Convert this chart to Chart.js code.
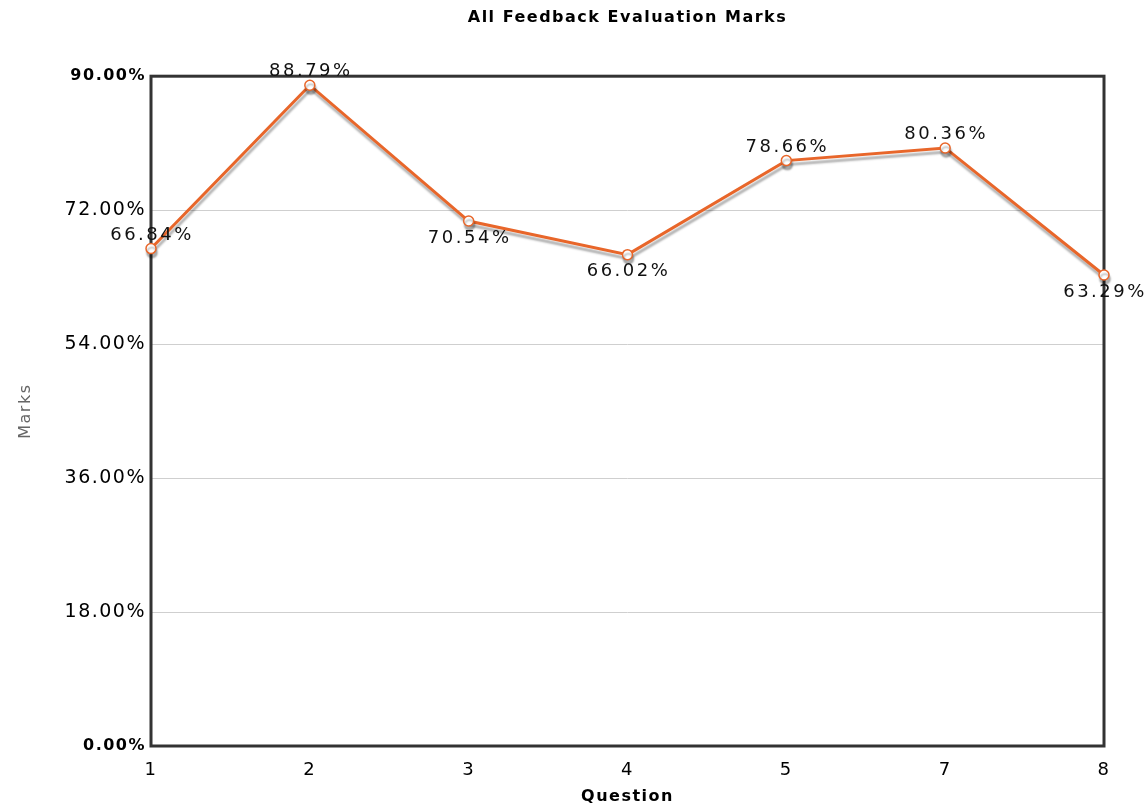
<!DOCTYPE html>
<html>
<head>
<meta charset="utf-8">
<script src="https://cdn.jsdelivr.net/npm/chart.js@4.4.1/dist/chart.umd.min.js"></script>
<style>
  html, body { margin: 0; padding: 0; background: #fff; }
  #wrap { width: 1148px; height: 808px; }
</style>
</head>
<body>
<div id="wrap"><canvas id="marksChart" width="1148" height="808"></canvas></div>
<script>
// questions and marks
const questions = ["1", "2", "3", "4", "5", "7", "8"];
const marks = [66.84, 88.79, 70.54, 66.02, 78.66, 80.36, 63.29];
// where each label sits: above or below its point
const labelSide = ["up", "up", "down", "down", "up", "up", "down"];
const yTicks = [0, 18, 36, 54, 72, 90];

const FONT = "'DejaVu Sans', Verdana, sans-serif";
const ORANGE = "#e8662a";
const SPACING = "1.5px";

function isEdge(ctx) {
  return !!ctx.tick && (ctx.tick.value === yTicks[0] || ctx.tick.value === yTicks[yTicks.length - 1]);
}

// the old flash chart had loose letter spacing on its texts
const spacing = {
  id: "spacing",
  beforeLayout(chart) { chart.ctx.letterSpacing = SPACING; },
  beforeDraw(chart) { chart.ctx.letterSpacing = SPACING; }
};

// frame + drop shadow under the line
const lineShadow = {
  id: "lineShadow",
  beforeDatasetsDraw(chart) {
    const ctx = chart.ctx;
    const a = chart.chartArea;
    ctx.save();
    ctx.strokeStyle = "#333";
    ctx.lineWidth = 3;
    ctx.strokeRect(a.left, a.top, a.right - a.left, a.bottom - a.top);
    ctx.restore();

    ctx.save();
    ctx.shadowColor = "rgba(0,0,0,0.3)";
    ctx.shadowOffsetX = 1;
    ctx.shadowOffsetY = 4;
    ctx.shadowBlur = 2;
  },
  afterDatasetsDraw(chart) {
    chart.ctx.restore();
  }
};

// value labels next to the points
const valueLabels = {
  id: "valueLabels",
  afterDatasetsDraw(chart) {
    const ctx = chart.ctx;
    const meta = chart.getDatasetMeta(0);
    ctx.save();
    ctx.letterSpacing = "2.5px";
    ctx.font = "18px " + FONT;
    ctx.fillStyle = "#111";
    ctx.textAlign = "center";
    meta.data.forEach((pt, i) => {
      const txt = marks[i].toFixed(2) + "%";
      if (labelSide[i] === "up") {
        ctx.textBaseline = "alphabetic";
        ctx.fillText(txt, pt.x + 1, pt.y - 9);
      } else {
        ctx.textBaseline = "top";
        ctx.fillText(txt, pt.x + 1, pt.y + 8);
      }
    });
    ctx.restore();
  }
};

new Chart(document.getElementById("marksChart"), {
  type: "line",
  data: {
    labels: questions,
    datasets: [{
      data: marks,
      borderColor: ORANGE,
      borderWidth: 3,
      pointRadius: 5,
      pointBorderWidth: 1.5,
      pointBackgroundColor: "#fff",
      pointBorderColor: ORANGE,
      tension: 0,
      clip: false
    }]
  },
  options: {
    responsive: false,
    animation: false,
    layout: { padding: { top: 6, right: 44, bottom: 2, left: 6 } },
    plugins: {
      legend: { display: false },
      tooltip: { enabled: false },
      title: {
        display: true,
        fullSize: false,
        text: "All Feedback Evaluation Marks",
        color: "#000",
        font: { family: FONT, size: 16, weight: "bold" },
        padding: { top: 2, bottom: 49 }
      }
    },
    scales: {
      x: {
        offset: false,
        afterFit(scale) { scale.height = 60; },
        grid: { display: false, drawTicks: false },
        border: { display: false },
        ticks: {
          color: "#000",
          font: { family: FONT, size: 18 },
          padding: 14,
          maxRotation: 0
        },
        title: {
          display: true,
          text: "Question",
          color: "#000",
          font: { family: FONT, size: 16, weight: "bold" },
          padding: { top: 0, bottom: 0 }
        }
      },
      y: {
        min: 0,
        max: 90,
        afterFit(scale) { scale.width = 145; },
        grid: {
          color: ctx => isEdge(ctx) ? "rgba(0,0,0,0)" : "#cfcfcf",
          lineWidth: 1,
          drawTicks: false
        },
        border: { display: false },
        ticks: {
          stepSize: 18,
          color: "#000",
          padding: 5,
          font: ctx => ({
            family: FONT,
            size: isEdge(ctx) ? 16 : 19,
            weight: isEdge(ctx) ? "bold" : "normal"
          }),
          callback: v => v.toFixed(2) + "%"
        },
        title: {
          display: true,
          text: "Marks",
          color: "#666",
          font: { family: FONT, size: 16 },
          padding: { top: 10, bottom: 0 }
        }
      }
    }
  },
  plugins: [spacing, lineShadow, valueLabels]
});
</script>
</body>
</html>
